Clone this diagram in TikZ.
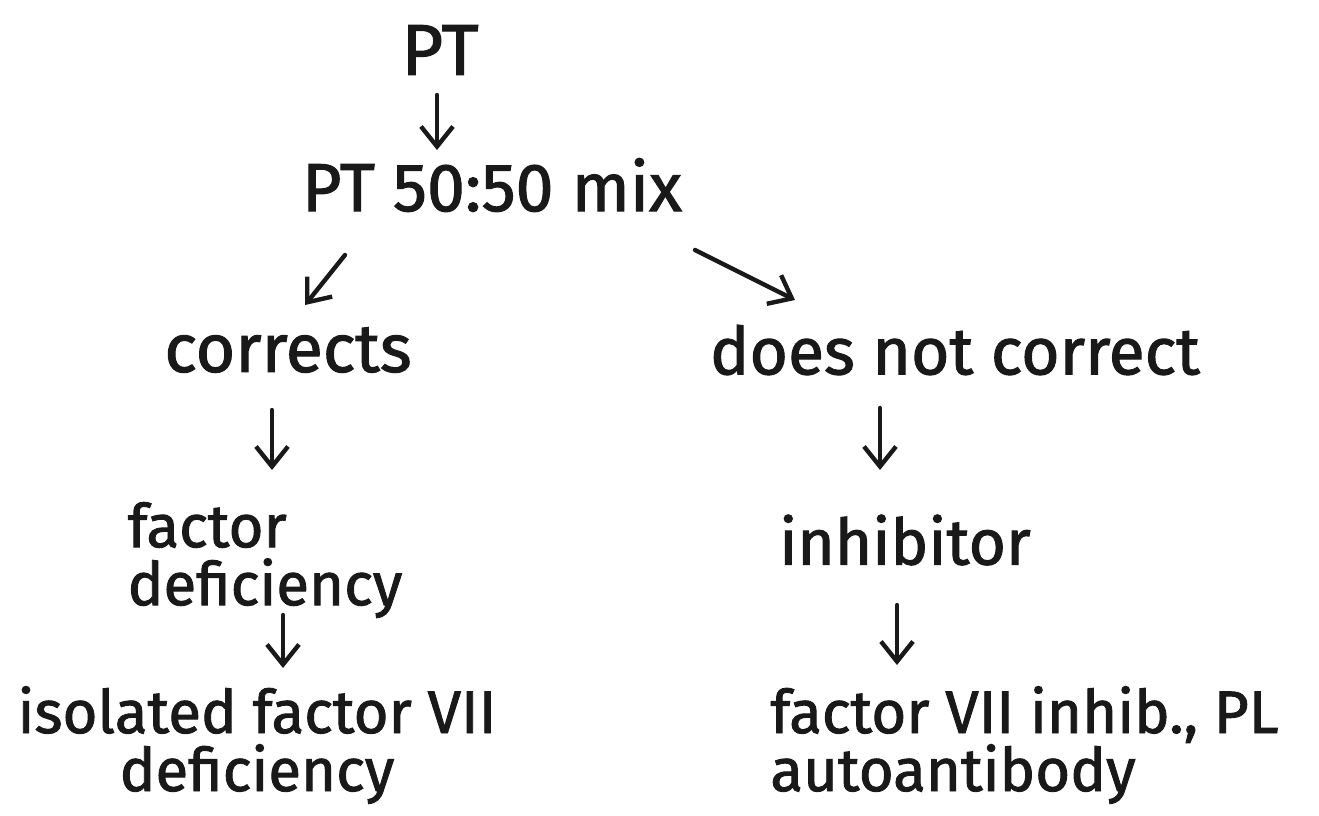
\documentclass[tikz,border=0pt]{standalone}
\usepackage{fontspec}
\setmainfont[FakeBold=1.5]{Fira Sans}
\usetikzlibrary{arrows.meta}
\begin{document}
\begin{tikzpicture}[x=0.5pt,y=-0.5pt,
  txt/.style={font=\fontsize{30}{29}\selectfont, inner sep=0pt, text=black!90},
  wide/.style={font=\fontsize{34}{30}\selectfont, inner sep=0pt, text=black!90},
  big/.style={font=\fontsize{36}{34}\selectfont, inner sep=0pt, text=black!90},
  arr/.style={line width=2.2pt, draw=black!90, line cap=round, line join=round, -{Straight Barb[length=10pt,width=16pt,line width=2.2pt]}}]
\useasboundingbox[fill=white] (0,0) rectangle (1319,815);
% texts
\node[big] (pt) at (440,50) {PT};
\node[wide] (mix) at (492,185) {PT 50:50 mix};
\node[wide] (cor) at (288,350) {corrects};
\node[wide, font=\fontsize{33}{30}\selectfont] (dnc) at (955,350) {does not correct};
\node[txt, align=left] (fd) at (265,560) {factor\\deficiency};
\node[txt, align=center] (ifd) at (257,745) {isolated factor VII\\deficiency};
\node[txt, font=\fontsize{32}{30}\selectfont] (inh) at (905,540) {inhibitor};
\node[txt, align=left, anchor=west] (f7) at (770,745) {factor VII inhib., PL\\autoantibody};
% arrow ends
\coordinate (a1s) at (437,95);  \coordinate (a1e) at (437,150);
\coordinate (a2s) at (345,255); \coordinate (a2e) at (305,305);
\coordinate (a3s) at (695,250); \coordinate (a3e) at (795,300);
\coordinate (a4s) at (272,410); \coordinate (a4e) at (272,470);
\coordinate (a5s) at (283,615); \coordinate (a5e) at (283,668);
\coordinate (a6s) at (880,408); \coordinate (a6e) at (880,470);
\coordinate (a7s) at (897,605); \coordinate (a7e) at (897,665);
\draw[arr] (a1s) -- (a1e);
\draw[arr] (a2s) -- (a2e);
\draw[arr] (a3s) -- (a3e);
\draw[arr] (a4s) -- (a4e);
\draw[arr] (a5s) -- (a5e);
\draw[arr] (a6s) -- (a6e);
\draw[arr] (a7s) -- (a7e);
\end{tikzpicture}
\end{document}
